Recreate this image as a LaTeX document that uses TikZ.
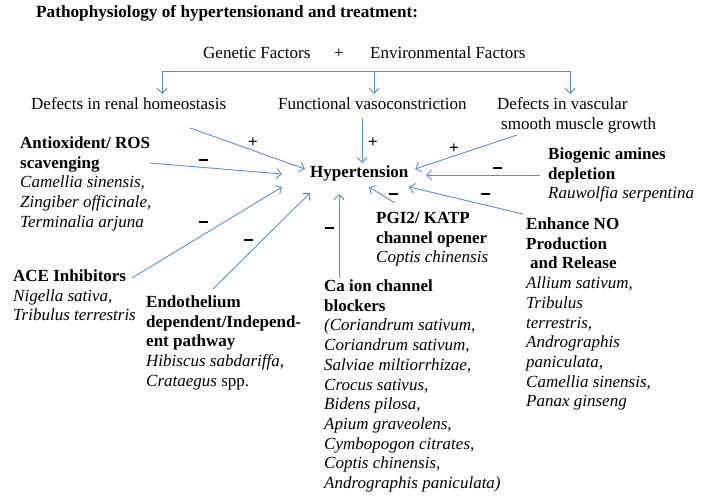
\documentclass[tikz,border=0pt]{standalone}
\usepackage{fontspec}
\setmainfont{Liberation Serif}
\usetikzlibrary{arrows.meta}
\definecolor{arrblue}{RGB}{91,143,212}
\newcommand{\minussign}{\rule{9pt}{2.6pt}}
\tikzset{
  txt/.style={anchor=base west,inner sep=0pt,align=left,font=\fontsize{17}{19.7}\selectfont},
  hbox/.style={txt,font=\fontsize{17}{19.7}\selectfont\bfseries},
  sign/.style={inner sep=0pt,font=\fontsize{17}{17}\selectfont\bfseries},
  arr/.style={-{Straight Barb[length=5pt,width=10pt]},draw=arrblue,line width=.9pt},
  link/.style={draw=arrblue,line width=.9pt}
}

\begin{document}
\begin{tikzpicture}[x=1pt,y=-1pt]
  \useasboundingbox (0,0) rectangle (709,495);
  \node[hbox,font=\fontsize{17.2}{19.7}\selectfont\bfseries] (title) at (36,17.5) {Pathophysiology of hypertensionand and treatment:};

  % causes (multi-line nodes sit on their last baseline)
  \node[txt] (gen) at (203,58.5) {Genetic Factors};
  \node[txt,anchor=base] (genplus) at (339,58.5) {+};
  \node[txt] (env) at (370,58.5) {Environmental Factors};
  \node[txt] (renal) at (31,109.5) {Defects in renal homeostasis};
  \node[txt] (func) at (278,109.5) {Functional vasoconstriction};
  \node[txt] (vasc) at (497,129.2) {Defects in vascular\\\hspace{4pt}smooth muscle growth};

  \coordinate (brl) at (162,71);
  \coordinate (brm) at (374,71);
  \coordinate (brr) at (570,71);
  \draw[link] (brl) -- (brr);
  \draw[arr] (brl) -- (162,94);
  \draw[arr] (brm) -- (374,94);
  \draw[arr] (brr) -- (570,94);

  \node[hbox] (hyp) at (310,177.5) {Hypertension};

  % treatments
  \node[txt] (antiox) at (20,227.3) {\textbf{Antioxident/ ROS}\\\textbf{scavenging}\\
    \textit{Camellia sinensis,}\\\textit{Zingiber officinale,}\\\textit{Terminalia arjuna}};
  \node[txt] (ace) at (13,320.9) {\textbf{ACE Inhibitors}\\\textit{Nigella sativa,}\\\textit{Tribulus terrestris}};
  \node[txt] (endo) at (146,386.3) {\textbf{Endothelium}\\\textbf{dependent/Independ-}\\\textbf{ent pathway}\\
    \textit{Hibiscus sabdariffa},\\\textit{Crataegus} spp.};
  \node[txt] (caion) at (324,488.5) {\textbf{Ca ion channel}\\\textbf{blockers}\\
    \textit{(Coriandrum sativum,}\\\textit{Coriandrum sativum,}\\\textit{Salviae miltiorrhizae,}\\
    \textit{Crocus sativus,}\\\textit{Bidens pilosa,}\\\textit{Apium graveolens,}\\
    \textit{Cymbopogon citrates,}\\\textit{Coptis chinensis,}\\\textit{Andrographis paniculata)}};
  \node[txt] (pgi) at (376,262.9) {\textbf{PGI2/ KATP}\\\textbf{channel opener}\\\textit{Coptis chinensis}};
  \node[txt] (biog) at (548,198.9) {\textbf{Biogenic amines}\\\textbf{depletion}\\\textit{Rauwolfia serpentina}};
  \node[txt] (nitric) at (526,406.8) {\textbf{Enhance NO}\\\textbf{Production}\\\hspace{4pt}\textbf{and Release}\\
    \textit{Allium sativum,}\\\textit{Tribulus}\\\textit{terrestris,}\\\textit{Andrographis}\\
    \textit{paniculata,}\\\textit{Camellia sinensis,}\\\textit{Panax ginseng}};

  % arrow ends
  \coordinate (renalout) at (190,128);  \coordinate (hypa) at (305,169);
  \coordinate (antiout) at (150,163);   \coordinate (hypb) at (282,174);
  \coordinate (aceout) at (132,278);    \coordinate (hypc) at (282,187);
  \coordinate (endoout) at (213,289);   \coordinate (hypd) at (310,193);
  \coordinate (caout) at (339,278);     \coordinate (hype) at (339,194);
  \coordinate (funcout) at (362,118);   \coordinate (hypf) at (362,163);
  \coordinate (vascout) at (517,135);   \coordinate (hypg) at (415,169);
  \coordinate (biogout) at (540,175);   \coordinate (hyph) at (426,175);
  \coordinate (pgiout) at (395,203);    \coordinate (hypi) at (369,187);
  \coordinate (noout) at (523,214);     \coordinate (hypj) at (409,187);
  \foreach \a/\b in {renalout/hypa,antiout/hypb,aceout/hypc,endoout/hypd,caout/hype,
                     funcout/hypf,vascout/hypg,biogout/hyph,pgiout/hypi,noout/hypj}
    \draw[arr] (\a) -- (\b);

  % signs
  \foreach \n/\x/\y/\s in {p1/253/143/+,p2/373/143/+,p3/454/149/+,
                           m1/203/160/\minussign,m2/203/222/\minussign,m3/248/240/\minussign,
                           m4/329/228/\minussign,m5/497/168/\minussign,m6/393/194/\minussign,
                           m7/485/194/\minussign}
    \node[sign] (\n) at (\x,\y) {\s};
\end{tikzpicture}
\end{document}
